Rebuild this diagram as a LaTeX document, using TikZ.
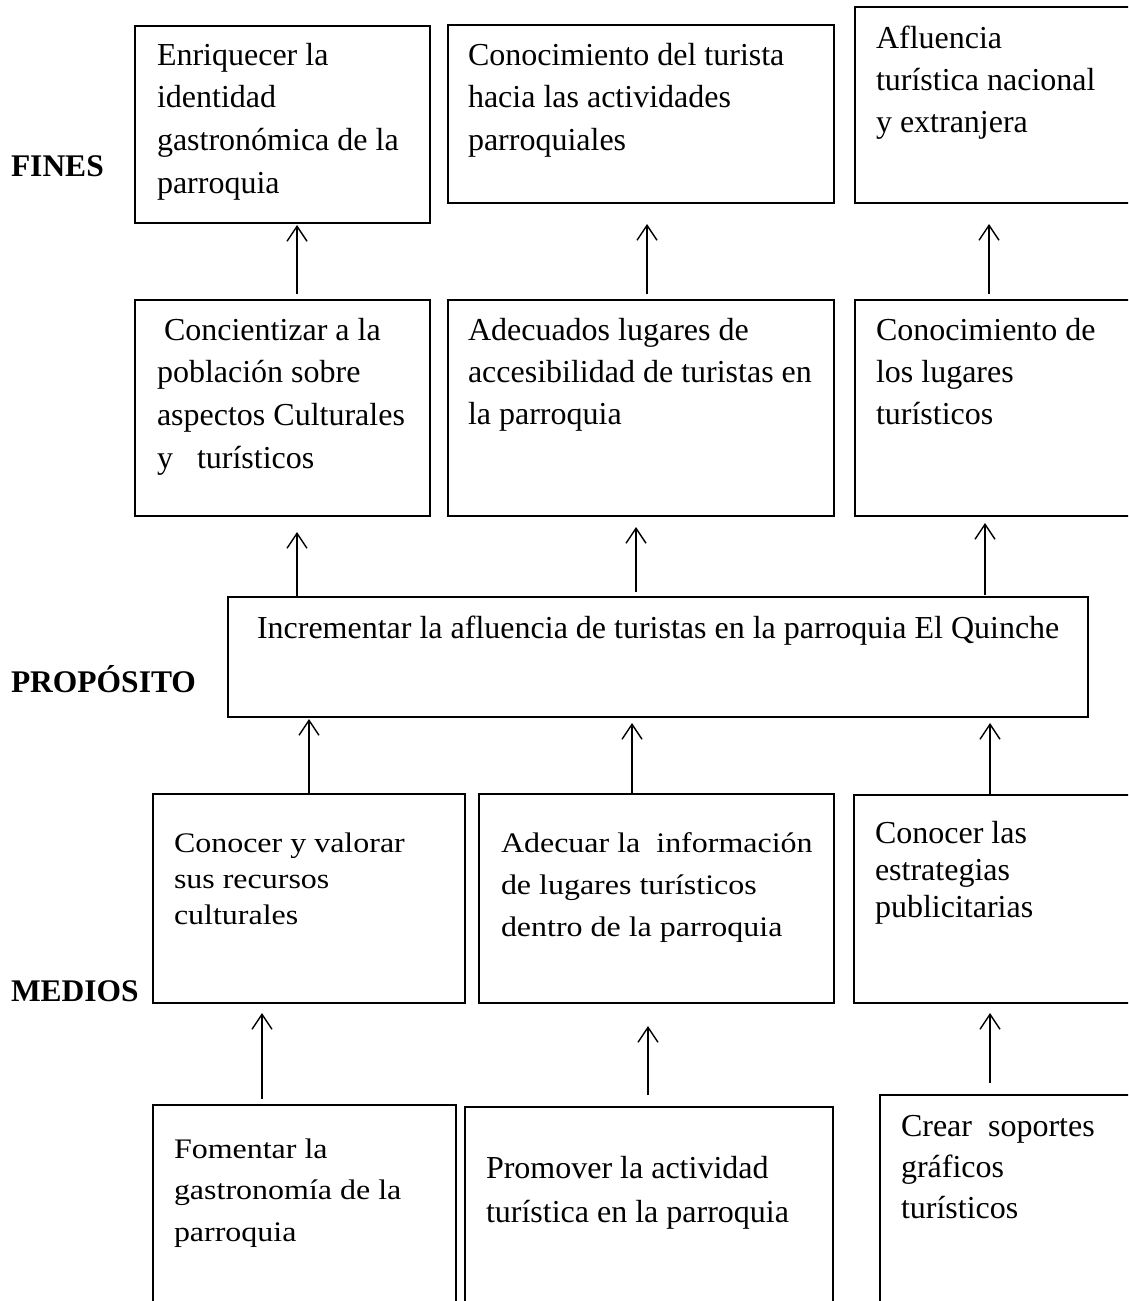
\documentclass[tikz,border=0pt]{standalone}
\usepackage{fontspec}
\setmainfont{Liberation Serif}
\newfontfamily\widefont[FakeStretch=1.13]{Liberation Serif}
\usetikzlibrary{arrows.meta}
\newcommand{\boxlines}[1]{\parbox[t]{600pt}{\raggedright #1}}
\begin{document}
\begin{tikzpicture}[x=1pt,y=-1pt,
  box/.style={draw=black, line width=2.4pt, rectangle, inner sep=0pt, outer sep=0pt},
  txt/.style={anchor=base west, inner sep=0pt, outer sep=0pt, font=\fontsize{32}{#1}\selectfont},
  widetxt/.style={anchor=base west, inner sep=0pt, outer sep=0pt, font=\widefont\fontsize{28.3}{#1}\selectfont},
  lbl/.style={anchor=base west, inner sep=0pt, outer sep=0pt, font=\bfseries\fontsize{31.5}{36}\selectfont},
  arr/.style={draw=black, line width=1.4pt, -{Straight Barb[length=15pt,width=20pt]}}
]
\useasboundingbox (0,0) rectangle (1128,1301);
\clip (0,0) rectangle (1128,1301);

% side labels
\node[lbl] (lfines) at (11,176) {FINES};
\node[lbl] (lprop) at (11,692) {PROPÓSITO};
\node[lbl] (lmedios) at (11,1001) {MEDIOS};

% boxes
\node[box, minimum width=295pt, minimum height=197pt] (A1) at (282.5,124.5) {};
\node[box, minimum width=386pt, minimum height=178pt] (A2) at (641,114) {};
\node[box, minimum width=285pt, minimum height=196pt] (A3) at (997.5,105) {};
\node[box, minimum width=295pt, minimum height=216pt] (B1) at (282.5,408) {};
\node[box, minimum width=386pt, minimum height=216pt] (B2) at (641,408) {};
\node[box, minimum width=285pt, minimum height=216pt] (B3) at (997.5,408) {};
\node[box, minimum width=860pt, minimum height=120pt] (P) at (658,657) {};
\node[box, minimum width=312pt, minimum height=209pt] (C1) at (309,898.5) {};
\node[box, minimum width=355pt, minimum height=209pt] (C2) at (656.5,898.5) {};
\node[box, minimum width=286pt, minimum height=208pt] (C3) at (997,899) {};
\node[box, minimum width=303pt, minimum height=215pt] (D1) at (304.5,1212.5) {};
\node[box, minimum width=368pt, minimum height=213pt] (D2) at (649,1213.5) {};
\node[box, minimum width=260pt, minimum height=225pt] (D3) at (1010,1207.5) {};

% texts
\node[txt=42.7] (tA1) at (157,65) {\boxlines{Enriquecer la\\identidad\\gastronómica de la\\parroquia}};
\node[txt=42.5] (tA2) at (468,65) {\boxlines{Conocimiento del turista\\hacia las actividades\\parroquiales}};
\node[txt=42] (tA3) at (876,48) {\boxlines{Afluencia\\turística nacional\\y extranjera}};
\node[txt=42.7] (tB1) at (157,340) {\boxlines{\hspace*{7pt}Concientizar a la\\población sobre\\aspectos Culturales\\y\ \ \ turísticos}};
\node[txt=42] (tB2) at (468,340) {\boxlines{Adecuados lugares de\\accesibilidad de turistas en\\la parroquia}};
\node[txt=42] (tB3) at (876,340) {\boxlines{Conocimiento de\\los lugares\\turísticos}};
\node[txt=42] (tP) at (257,638) {Incrementar la afluencia de turistas en la parroquia El Quinche};
\node[widetxt=36] (tC1) at (174,852) {\boxlines{Conocer y valorar\\sus recursos\\culturales}};
\node[widetxt=42] (tC2) at (501,852) {\boxlines{Adecuar la\ \ información\\de lugares turísticos\\dentro de la parroquia}};
\node[txt=37] (tC3) at (875,843) {\boxlines{Conocer las\\estrategias\\publicitarias}};
\node[widetxt=41.5] (tD1) at (174,1158) {\boxlines{Fomentar la\\gastronomía de la\\parroquia}};
\node[txt=44] (tD2) at (486,1178) {\boxlines{Promover la actividad\\turística en la parroquia}};
\node[txt=41] (tD3) at (901,1136) {\boxlines{Crear\ \ soportes\\gráficos\\turísticos}};

% arrow columns
\coordinate (xa) at (297,0);
\coordinate (xb) at (647,0);
\coordinate (xc) at (989,0);
\coordinate (xd) at (636,0);
\coordinate (xe) at (985,0);
\coordinate (xf) at (309,0);
\coordinate (xg) at (632,0);
\coordinate (xh) at (990,0);
\coordinate (xi) at (262,0);
\coordinate (xj) at (648,0);

% arrows
\draw[arr, shorten <=6pt, shorten >=2pt] (B1.north -| xa) -- (A1.south -| xa);
\draw[arr, shorten <=6pt, shorten >=21pt] (B2.north -| xb) -- (A2.south -| xb);
\draw[arr, shorten <=6pt, shorten >=21pt] (B3.north -| xc) -- (A3.south -| xc);
\draw[arr, shorten >=16pt] (P.north -| xa) -- (B1.south -| xa);
\draw[arr, shorten <=5pt, shorten >=11pt] (P.north -| xd) -- (B2.south -| xd);
\draw[arr, shorten <=2pt, shorten >=7pt] (P.north -| xe) -- (B3.south -| xe);
\draw[arr, shorten >=2pt] (C1.north -| xf) -- (P.south -| xf);
\draw[arr, shorten >=6pt] (C2.north -| xg) -- (P.south -| xg);
\draw[arr, shorten >=6pt] (C3.north -| xh) -- (P.south -| xh);
\draw[arr, shorten <=6pt, shorten >=10pt] (D1.north -| xi) -- (C1.south -| xi);
\draw[arr, shorten <=12pt, shorten >=23pt] (D2.north -| xj) -- (C2.south -| xj);
\draw[arr, shorten <=12pt, shorten >=10pt] (D3.north -| xh) -- (C3.south -| xh);
\end{tikzpicture}
\end{document}
